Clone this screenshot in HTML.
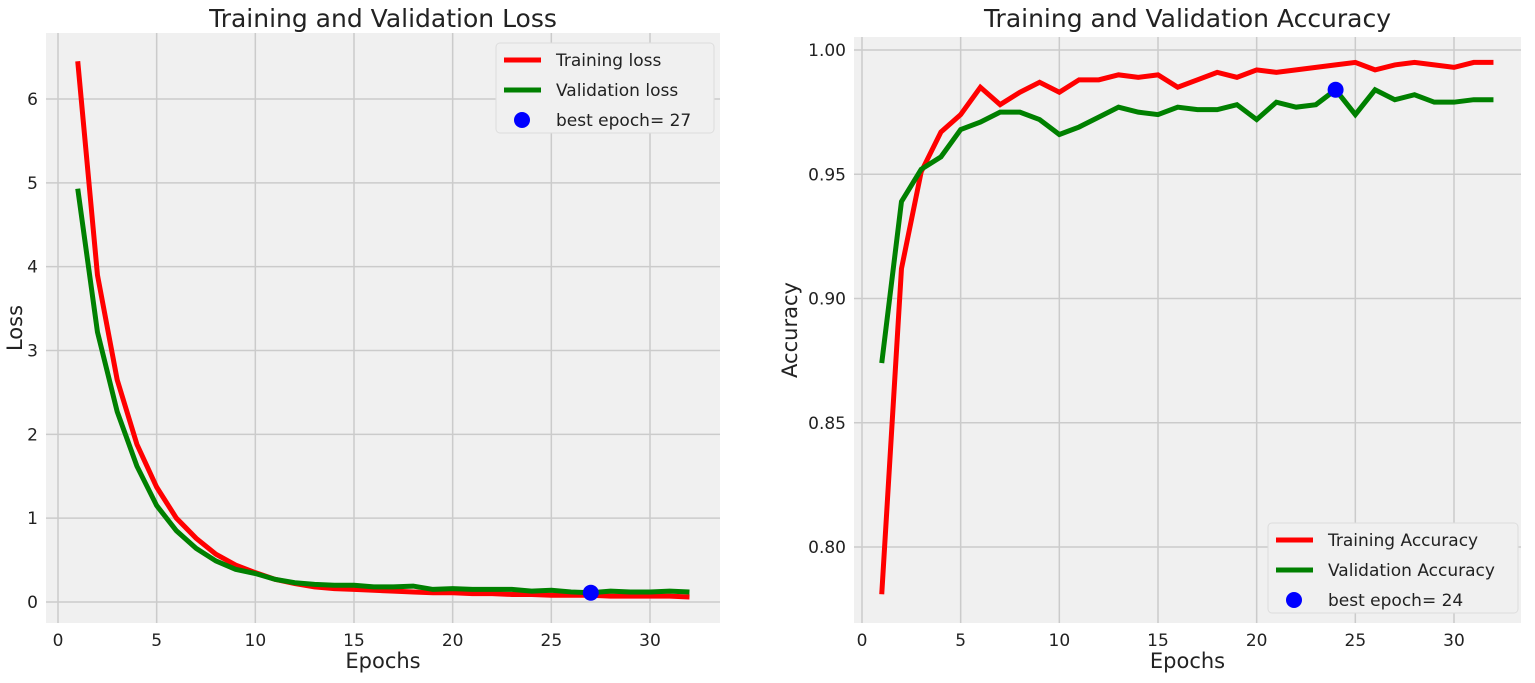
<!DOCTYPE html>
<html><head><meta charset="utf-8"><style>
body{margin:0;background:#fff;width:1535px;height:678px;overflow:hidden}
svg{font-family:"DejaVu Sans","Liberation Sans",sans-serif}
</style></head><body>
<svg id="chart" width="1535" height="678"></svg>
<script>
const epochs=[1,2,3,4,5,6,7,8,9,10,11,12,13,14,15,16,17,18,19,20,21,22,23,24,25,26,27,28,29,30,31,32];
const trainLoss=[6.45,3.9,2.65,1.88,1.37,1.0,0.76,0.57,0.44,0.35,0.27,0.22,0.18,0.16,0.15,0.14,0.13,0.12,0.11,0.11,0.10,0.10,0.09,0.09,0.08,0.08,0.08,0.07,0.07,0.07,0.07,0.06];
const valLoss=[4.93,3.22,2.27,1.62,1.15,0.85,0.64,0.49,0.39,0.34,0.27,0.23,0.21,0.20,0.20,0.18,0.18,0.19,0.15,0.16,0.15,0.15,0.15,0.13,0.14,0.12,0.11,0.13,0.12,0.12,0.13,0.12];
const trainAcc=[0.781,0.912,0.951,0.967,0.974,0.985,0.978,0.983,0.987,0.983,0.988,0.988,0.990,0.989,0.990,0.985,0.988,0.991,0.989,0.992,0.991,0.992,0.993,0.994,0.995,0.992,0.994,0.995,0.994,0.993,0.995,0.995];
const valAcc=[0.874,0.939,0.952,0.957,0.968,0.971,0.975,0.975,0.972,0.966,0.969,0.973,0.977,0.975,0.974,0.977,0.976,0.976,0.978,0.972,0.979,0.977,0.978,0.984,0.974,0.984,0.980,0.982,0.979,0.979,0.980,0.980];
const xTicks=[0,5,10,15,20,25,30];
const lossTicks=[0,1,2,3,4,5,6];
const accTicks=[0.80,0.85,0.90,0.95,1.00];
const bestLoss=27, bestAcc=24;

const NS="http://www.w3.org/2000/svg";
const svg=document.getElementById('chart');
function mk(tag,attrs,parent){const e=document.createElementNS(NS,tag);for(const k in attrs)e.setAttribute(k,attrs[k]);(parent||svg).appendChild(e);return e;}

function panel(o){
  const g=mk('g',{});
  
  
  const sx=v=>o.x0+(v-o.xmin)*(o.x1-o.x0)/(o.xmax-o.xmin);
  const sy=v=>o.yb-(v-o.ymin)*(o.yb-o.yt)/(o.ymax-o.ymin);
  const bg=mk('rect',{x:o.L,y:o.T,width:o.R-o.L,height:o.B-o.T,fill:'#f0f0f0'},g);
  
  
  xTicks.forEach(t=>{
    const X=sx(t);
    mk('line',{x1:X,x2:X,y1:o.T,y2:o.B,stroke:'#cbcbcb','stroke-width':1.5},g);
    const tx=mk('text',{x:X,y:o.B+23,'font-size':17,'text-anchor':'middle',fill:'#222'},g);
    tx.textContent=t;
    
    
  });
  o.yTicks.forEach(t=>{
    const Y=sy(t);
    mk('line',{x1:o.L,x2:o.R,y1:Y,y2:Y,stroke:'#cbcbcb','stroke-width':1.5},g);
    const tx=mk('text',{x:o.L-8,y:Y+6,'font-size':17,'text-anchor':'end',fill:'#222'},g);
    tx.textContent=o.fmt(t);
    
    
  });
  const series=[[o.tr,'#ff0000','training-line'],[o.va,'#008000','validation-line']];
  series.forEach(s=>{
    const p=mk('polyline',{points:epochs.map((e,i)=>sx(e)+','+sy(s[0][i])).join(' '),fill:'none',stroke:s[1],'stroke-width':5,'stroke-linejoin':'miter'},g);
    
    
  });
  const bi=o.best-1;
  const c=mk('circle',{cx:sx(o.best),cy:sy(o.va[bi]),r:8,fill:'#0000ff'},g);
  
  
  const ti=mk('text',{x:(o.L+o.R)/2,y:27,'font-size':25,'text-anchor':'middle',fill:'#222'},g);
  ti.textContent=o.title;
  
  
  const xl=mk('text',{x:(o.L+o.R)/2,y:668,'font-size':21,'text-anchor':'middle',fill:'#222'},g);
  xl.textContent='Epochs';
  
  
  const yl=mk('text',{x:0,y:0,'font-size':21,'text-anchor':'middle',fill:'#222',transform:`translate(${o.ylx},${(o.T+o.B)/2}) rotate(-90)`},g);
  yl.textContent=o.ylabel;
  
  
  const lg=mk('g',{},g);
  
  
  mk('rect',{x:o.lx,y:o.ly,width:o.lw,height:90,rx:4,fill:'#f0f0f0',stroke:'#dddddd'},lg);
  const labels=o.labels;
  [['#ff0000'],['#008000']].forEach((c2,i)=>{
    const y=o.ly+17+i*30;
    mk('line',{x1:o.lx+8,x2:o.lx+45,y1:y,y2:y,stroke:c2[0],'stroke-width':5},lg);
    const t=mk('text',{x:o.lx+60,y:y+6,'font-size':17,fill:'#222'},lg);
    t.textContent=labels[i];
    
    
  });
  mk('circle',{cx:o.lx+26,cy:o.ly+77,r:8,fill:'#0000ff'},lg);
  const t3=mk('text',{x:o.lx+60,y:o.ly+83,'font-size':17,fill:'#222'},lg);
  t3.textContent='best epoch= '+o.best;
  
  
}
panel({name:'loss-chart',L:46,R:720,T:33,B:623,x0:58,x1:650,xmin:0,xmax:30,yb:602,yt:99,ymin:0,ymax:6,
  yTicks:lossTicks,fmt:t=>String(t),tr:trainLoss,va:valLoss,best:bestLoss,title:'Training and Validation Loss',
  ylabel:'Loss',ylx:22,lx:496,ly:43,lw:218,labels:['Training loss','Validation loss']});
panel({name:'accuracy-chart',L:854,R:1521,T:37,B:623,x0:862,x1:1454,xmin:0,xmax:30,yb:547,yt:50,ymin:0.80,ymax:1.00,
  yTicks:accTicks,fmt:t=>t.toFixed(2),tr:trainAcc,va:valAcc,best:bestAcc,title:'Training and Validation Accuracy',
  ylabel:'Accuracy',ylx:797,lx:1268,ly:523,lw:250,labels:['Training Accuracy','Validation Accuracy']});
</script>
</body></html>
